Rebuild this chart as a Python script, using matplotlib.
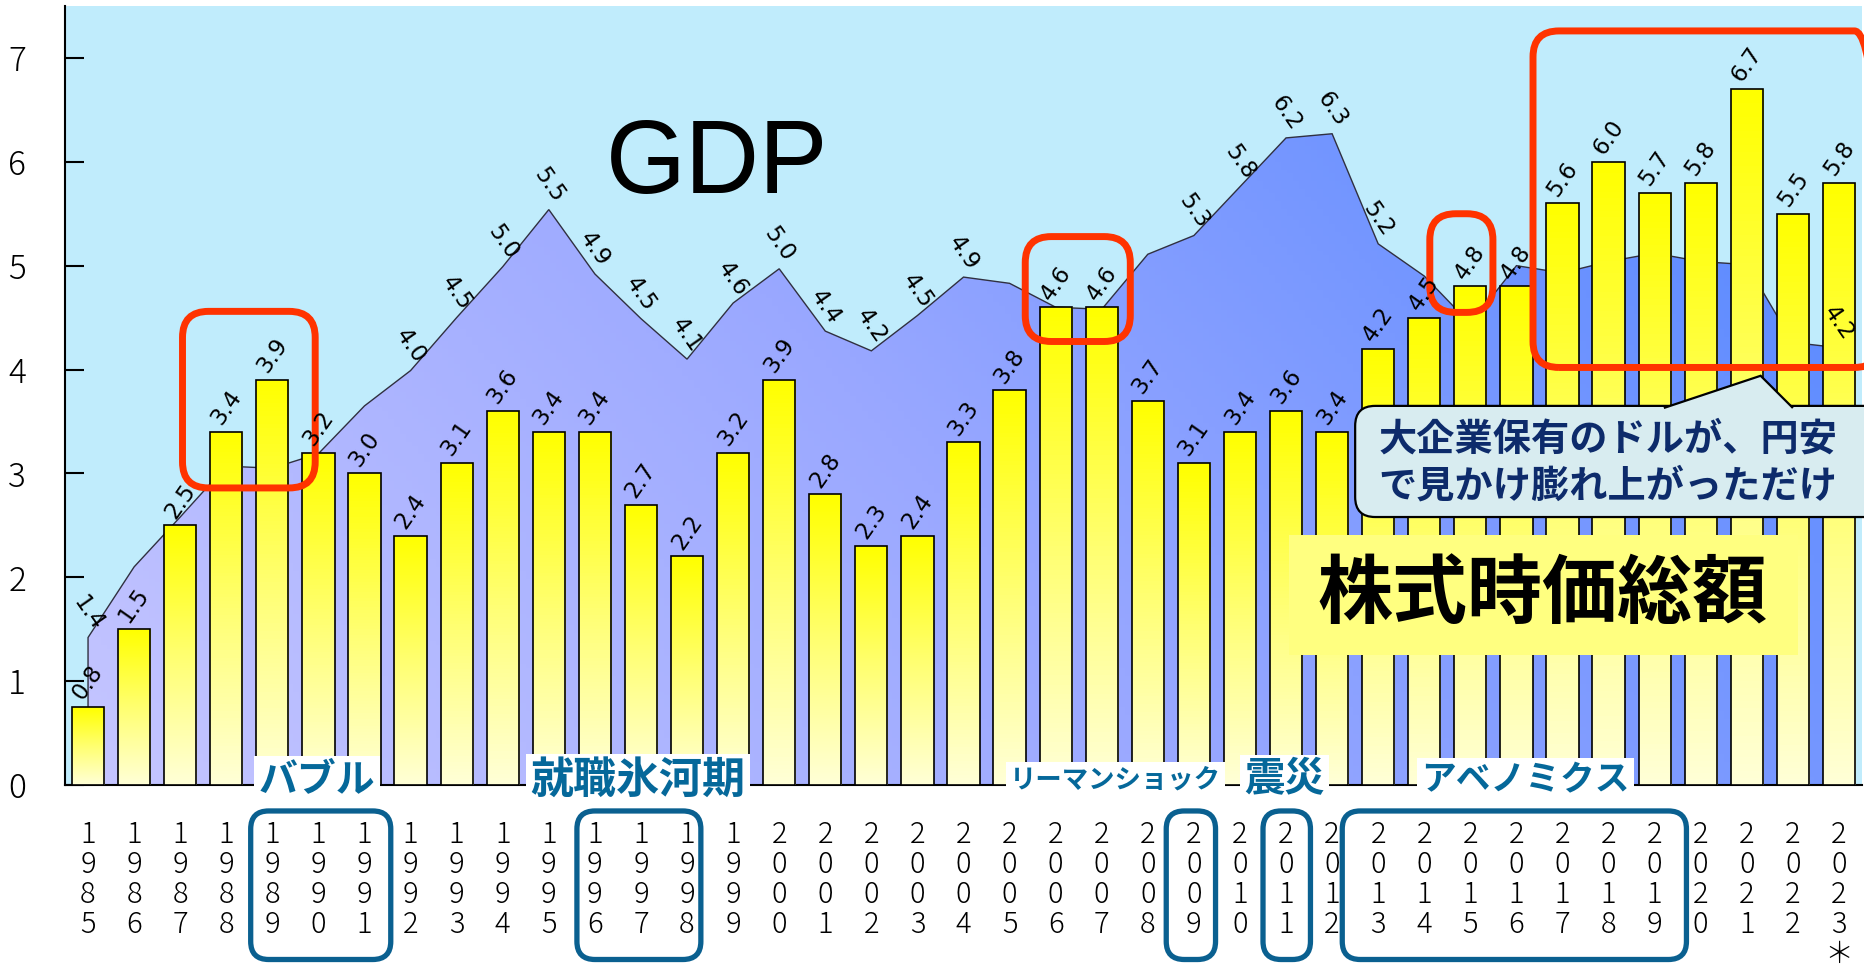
import numpy as np
import matplotlib
matplotlib.use("Agg")
import matplotlib.pyplot as plt
from matplotlib.colors import LinearSegmentedColormap
from matplotlib.patches import Polygon, FancyBboxPatch
from matplotlib.transforms import IdentityTransform

JP = ["Noto Sans CJK JP", "DejaVu Sans"]

years = list(range(1985, 2024))
year_labels = ["\n".join(str(y)) for y in years]
year_labels[-1] += "\n＊"

# 株式時価総額 (trillion USD)
market_cap = [0.75, 1.5, 2.5, 3.4, 3.9, 3.2, 3.0, 2.4, 3.1, 3.6, 3.4, 3.4, 2.7, 2.2,
              3.2, 3.9, 2.8, 2.3, 2.4, 3.3, 3.8, 4.6, 4.6, 3.7, 3.1, 3.4, 3.6, 3.4,
              4.2, 4.5, 4.8, 4.8, 5.6, 6.0, 5.7, 5.8, 6.7, 5.5, 5.8]
# GDP (trillion USD)
gdp = [1.42, 2.10, 2.58, 3.07, 3.05, 3.19, 3.65, 3.99, 4.50, 4.99, 5.54, 4.92, 4.49,
       4.10, 4.64, 4.97, 4.37, 4.18, 4.52, 4.89, 4.83, 4.60, 4.58, 5.11, 5.29, 5.76,
       6.23, 6.27, 5.21, 4.90, 4.44, 5.00, 4.93, 5.04, 5.12, 5.04, 5.01, 4.26, 4.21]
gdp_labeled = [1985, 1992, 1993, 1994, 1995, 1996, 1997, 1998, 1999, 2000, 2001,
               2002, 2003, 2004, 2009, 2010, 2011, 2012, 2013, 2023]

events = ["バブル", "就職氷河期", "リーマンショック", "震災", "アベノミクス"]
event_years = [(1989, 1991), (1996, 1998), (2009, 2009), (2011, 2011), (2013, 2019)]
event_text_x = [4.97, 11.93, 22.3, 25.97, 31.2]
event_sizes = [28, 31, 19, 29, 25]

fig = plt.figure(figsize=(18.65, 9.73), dpi=100)
ax = fig.add_axes([65 / 1865, 1 - 785 / 973, 1797 / 1865, 779 / 973])
ax.set_facecolor("#c0ecfc")
x = np.arange(len(years))

# GDP area with gradient
gx, gy = np.meshgrid(np.linspace(0, 1, 300), np.linspace(0, 1, 200))
cmap_gdp = LinearSegmentedColormap.from_list("gdp", ["#c6c6ff", "#9aa8ff", "#5a8aff"])
im = ax.imshow(0.8 * gx + 0.3 * gy, cmap=cmap_gdp, extent=[-0.5, 38.5, 0, 7.5],
               origin="lower", aspect="auto", zorder=1, vmin=0, vmax=1)
verts = [(x[0], 0)] + list(zip(x, gdp)) + [(x[-1], 0)]
area = Polygon(verts, closed=True, fc="none", ec="#303040", lw=1.0, zorder=2)
ax.add_patch(area)
im.set_clip_path(area)

# bars with yellow gradient
bars = ax.bar(x, market_cap, width=0.7, fc="none", ec="black", lw=1.2, zorder=4)
cmap_bar = LinearSegmentedColormap.from_list("bar", ["#ffffd6", "#ffff70", "#ffff00"])
grad = np.linspace(0, 1, 100).reshape(-1, 1)
for b in bars:
    bi = ax.imshow(grad, cmap=cmap_bar, origin="lower", aspect="auto", zorder=3,
                   extent=[b.get_x(), b.get_x() + b.get_width(), 0, b.get_height()])
    bi.set_clip_path(b)

ax.set_xlim(-0.5, 38.5)
ax.set_ylim(0, 7.5)

# value labels
for xi, v in zip(x, market_cap):
    ax.annotate(f"{v:.1f}", (xi, v), xytext=(0, 2), textcoords="offset points",
                rotation=55, ha="center", va="bottom", fontsize=16.5, zorder=8)
for xi, yr, g in zip(x, years, gdp):
    if yr in gdp_labeled:
        ax.annotate(f"{g:.1f}", (xi, g), xytext=(0, 2), textcoords="offset points",
                    rotation=-55, ha="center", va="bottom", fontsize=16.5, zorder=8)

ax.text(13.66, 5.95, "GDP", fontsize=74, family="Liberation Sans",
        ha="center", va="center", zorder=6)

# axes styling
ax.spines[["top", "right"]].set_visible(False)
ax.spines[["left", "bottom"]].set_linewidth(1.5)
ax.set_yticks(range(8))
ax.tick_params(axis="y", direction="in", length=14, width=1.5, labelsize=24, pad=28)
ax.set_xticks(x)
ax.set_xticklabels(year_labels, fontsize=21, linespacing=0.98)
ax.tick_params(axis="x", length=0, pad=25)
for t in ax.get_xticklabels() + ax.get_yticklabels():
    t.set_fontfamily(JP)
    t.set_fontweight("light")


def round_box(x0, x1, y0, y1, ec, lw, radius, fc="none", z=7):
    (px0, py0), (px1, py1) = ax.transData.transform([(x0, y0), (x1, y1)])
    patch = FancyBboxPatch((min(px0, px1), min(py0, py1)), abs(px1 - px0), abs(py1 - py0),
                           boxstyle=f"round,pad=0,rounding_size={radius}",
                           transform=IdentityTransform(), fc=fc, ec=ec, lw=lw,
                           zorder=z, clip_on=False)
    ax.add_artist(patch)


# red highlight boxes
red_boxes = [(2.05, 4.93, 2.86, 4.56), (20.34, 22.62, 4.27, 5.28),
             (29.12, 30.49, 4.55, 5.5), (31.36, 38.9, 4.02, 7.26)]
for x0, x1, y0, y1 in red_boxes:
    round_box(x0, x1, y0, y1, "#ff3300", 5, 26)

# event labels and year boxes
box_pad = [(0.47, 0.57), (0.39, 0.3), (0.6, 0.47), (0.5, 0.53), (0.78, 0.69)]
for name, (y0, y1), tx, fs, (pl, pr) in zip(events, event_years, event_text_x,
                                            event_sizes, box_pad):
    i0, i1 = years.index(y0), years.index(y1)
    round_box(i0 - pl, i1 + pr, -0.25, -1.68, "#0a6090", 3.8, 18)
    ax.text(tx, 0.05, name, fontsize=fs, fontweight="bold", family=JP,
            color="#05689a", ha="center", va="center", zorder=9, clip_on=False,
            bbox=dict(fc="white", ec="none", pad=3))

# callout
(cx0, cy0), (cx1, cy1) = ax.transData.transform([(27.5, 2.58), (39.2, 3.65)])
ax.add_artist(FancyBboxPatch((cx0, cy0), cx1 - cx0, cy1 - cy0,
                             boxstyle="round,pad=0,rounding_size=20",
                             transform=IdentityTransform(), fc="#d8ecf0", ec="black",
                             lw=1.6, zorder=10, clip_on=False))
tail = ax.transData.transform([(34.2, 3.63), (36.3, 3.94), (37.0, 3.63)])
ax.add_artist(Polygon(tail, closed=False, transform=IdentityTransform(), fc="#d8ecf0",
                      ec="black", lw=1.6, zorder=10.5, clip_on=False))
ax.text(28.0, 3.33, "大企業保有のドルが、円安", fontsize=27.5, fontweight="bold",
        family=JP, color="#0d2b6b", ha="left", va="center", zorder=11, clip_on=False)
ax.text(28.0, 2.88, "で見かけ膨れ上がっただけ", fontsize=27.5, fontweight="bold",
        family=JP, color="#0d2b6b", ha="left", va="center", zorder=11, clip_on=False)

# 株式時価総額 label
(lx0, ly0), (lx1, ly1) = ax.transData.transform([(26.06, 1.25), (37.12, 2.41)])
ax.add_artist(FancyBboxPatch((lx0, ly0), lx1 - lx0, ly1 - ly0, boxstyle="square,pad=0",
                             transform=IdentityTransform(), fc="#ffff80", ec="none",
                             zorder=10, clip_on=False))
ax.text(31.57, 1.83, "株式時価総額", fontsize=54, fontweight="bold", family=JP,
        ha="center", va="center", zorder=11)

fig.savefig("out.png", dpi=100)
